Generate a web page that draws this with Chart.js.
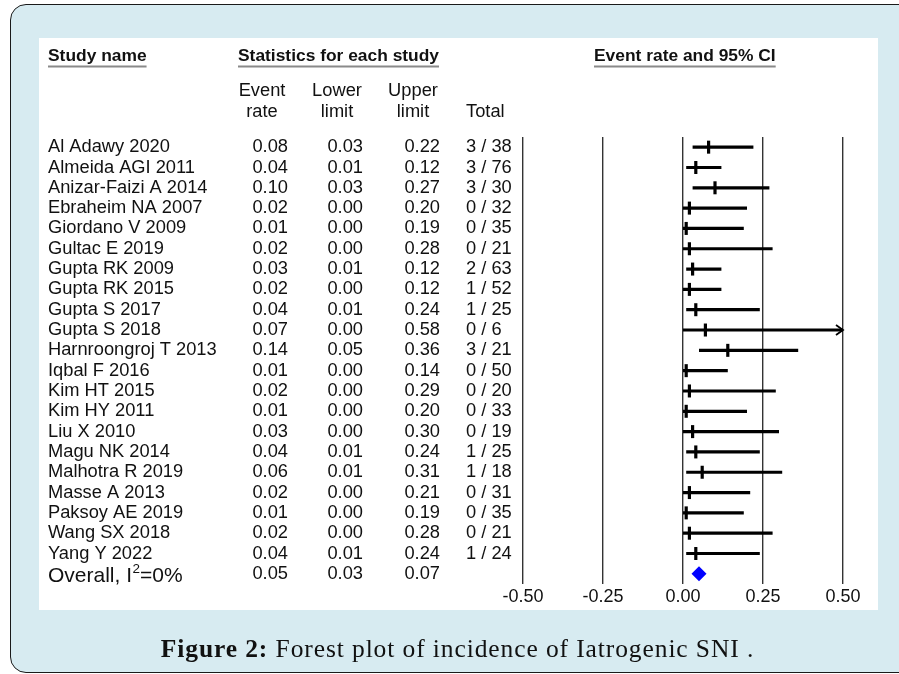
<!DOCTYPE html>
<html>
<head>
<meta charset="utf-8">
<script src="https://cdn.jsdelivr.net/npm/chart.js@4"></script>
<style>
  html, body { margin: 0; padding: 0; background: #ffffff; width: 899px; height: 674px; overflow: hidden; }
  #outer { position: absolute; left: 10px; top: 4px; width: 930px; height: 669px; box-sizing: border-box;
           border: 1.5px solid #1a1a1a; border-radius: 16px; background: #d7ebf1; }
  #panel { position: absolute; left: 39px; top: 38px; width: 839px; height: 572px; background: #ffffff; }
  #c { position: absolute; left: 0; top: 0; }
  #caption { position: absolute; left: 0; width: 915px; top: 634px; text-align: center; letter-spacing: 0.9px;
             font-family: "Liberation Serif", "DejaVu Serif", serif; font-size: 25.5px; color: #111; }
</style>
</head>
<body>
<div id="outer"></div>
<div id="panel"></div>
<canvas id="c" width="899" height="674"></canvas>
<div id="caption"><b>Figure 2:</b> Forest plot of incidence of Iatrogenic SNI .</div>
<script>
const studies = ["Al Adawy 2020","Almeida AGI 2011","Anizar-Faizi A 2014","Ebraheim NA 2007","Giordano V 2009",
  "Gultac E 2019","Gupta RK 2009","Gupta RK 2015","Gupta S 2017","Gupta S 2018","Harnroongroj T 2013",
  "Iqbal F 2016","Kim HT 2015","Kim HY 2011","Liu X 2010","Magu NK 2014","Malhotra R 2019","Masse A 2013",
  "Paksoy AE 2019","Wang SX 2018","Yang Y 2022"];
const eventRate  = [0.08,0.04,0.10,0.02,0.01,0.02,0.03,0.02,0.04,0.07,0.14,0.01,0.02,0.01,0.03,0.04,0.06,0.02,0.01,0.02,0.04];
const lowerLimit = [0.03,0.01,0.03,0.00,0.00,0.00,0.01,0.00,0.01,0.00,0.05,0.00,0.00,0.00,0.00,0.01,0.01,0.00,0.00,0.00,0.01];
const upperLimit = [0.22,0.12,0.27,0.20,0.19,0.28,0.12,0.12,0.24,0.58,0.36,0.14,0.29,0.20,0.30,0.24,0.31,0.21,0.19,0.28,0.24];
const totals = ["3 / 38","3 / 76","3 / 30","0 / 32","0 / 35","0 / 21","2 / 63","1 / 52","1 / 25","0 / 6","3 / 21",
  "0 / 50","0 / 20","0 / 33","0 / 19","1 / 25","1 / 18","0 / 31","0 / 35","0 / 21","1 / 24"];
const overallRate = 0.05, overallLower = 0.03, overallUpper = 0.07;
const xTicks = [-0.50, -0.25, 0.00, 0.25, 0.50];
const xMin = -0.5, xMax = 0.5;

const FONT = '"Liberation Sans", Arial, sans-serif';
const fmt = v => v.toFixed(2);

const ciDatasets = studies.map((s, i) => ({
  type: 'line',
  label: s,
  data: [{x: lowerLimit[i], y: i}, {x: Math.min(upperLimit[i], xMax), y: i}],
  borderColor: '#000', borderWidth: 3.2, pointRadius: 0, showLine: true, fill: false,
  borderCapStyle: 'butt', clip: false
}));

const textPlugin = {
  id: 'forestText',
  afterDatasetsDraw(chart) {
    const ctx = chart.ctx;
    const xs = chart.scales.x, ys = chart.scales.y;
    ctx.save();
    // arrows for clipped CIs
    upperLimit.forEach((u, i) => {
      if (u > xMax) {
        const px = xs.getPixelForValue(xMax), py = ys.getPixelForValue(i);
        ctx.strokeStyle = '#000'; ctx.lineWidth = 1.8;
        ctx.beginPath(); ctx.moveTo(px - 7, py - 5); ctx.lineTo(px, py); ctx.lineTo(px - 7, py + 5); ctx.stroke();
      }
    });
    // headers
    ctx.fillStyle = '#111';
    ctx.textBaseline = 'middle';
    ctx.font = 'bold 17.4px ' + FONT;
    const headers = [["Study name", 48, 'left'], ["Statistics for each study", 238, 'left'], ["Event rate and 95% CI", 594, 'left']];
    headers.forEach(([t, x, a]) => {
      ctx.textAlign = a;
      ctx.fillText(t, x, 56);
      const w = ctx.measureText(t).width;
      ctx.strokeStyle = '#8a8a8a'; ctx.lineWidth = 2;
      ctx.beginPath(); ctx.moveTo(x, 66.5); ctx.lineTo(x + w, 66.5); ctx.stroke();
    });
    ctx.font = '18.3px ' + FONT;
    ctx.textAlign = 'center';
    [["Event","rate",262],["Lower","limit",337],["Upper","limit",413]].forEach(([a,b,x]) => {
      ctx.fillText(a, x, 91); ctx.fillText(b, x, 112);
    });
    ctx.textAlign = 'left';
    ctx.fillText("Total", 466, 112);
    // rows
    studies.forEach((s, i) => {
      const y = ys.getPixelForValue(i);
      ctx.textAlign = 'left';
      ctx.fillText(s, 48, y);
      ctx.fillText(totals[i], 466, y);
      ctx.textAlign = 'right';
      ctx.fillText(fmt(eventRate[i]), 288, y);
      ctx.fillText(fmt(lowerLimit[i]), 363, y);
      ctx.fillText(fmt(upperLimit[i]), 440, y);
    });
    const yo = ys.getPixelForValue(studies.length);
    ctx.textAlign = 'right';
    ctx.fillText(fmt(overallRate), 288, yo);
    ctx.fillText(fmt(overallLower), 363, yo);
    ctx.fillText(fmt(overallUpper), 440, yo);
    ctx.textAlign = 'left';
    ctx.font = '21px ' + FONT;
    let x = 48;
    const y2 = yo + 2;
    ctx.fillText("Overall, I", x, y2); x += ctx.measureText("Overall, I").width;
    ctx.font = '13.5px ' + FONT;
    ctx.fillText("2", x + 0.5, y2 - 7); x += ctx.measureText("2").width + 0.5;
    ctx.font = '21px ' + FONT;
    ctx.fillText("=0%", x, y2);
    ctx.restore();
  }
};

new Chart(document.getElementById('c'), {
  type: 'scatter',
  data: {
    datasets: [
      ...ciDatasets,
      {
        type: 'scatter', label: 'Event rate',
        data: eventRate.map((v, i) => ({x: v, y: i})),
        pointStyle: 'line', rotation: 90, pointRadius: 6.5, pointBorderWidth: 3.2,
        borderColor: '#000', backgroundColor: '#000', clip: false
      },
      {
        type: 'scatter', label: 'Overall',
        data: [{x: overallRate, y: studies.length}],
        pointStyle: 'rectRot', pointRadius: 7.5, pointBorderWidth: 0,
        backgroundColor: '#0000ff', borderColor: '#0000ff', clip: false
      }
    ]
  },
  options: {
    responsive: false, animation: false, devicePixelRatio: 1,
    layout: { padding: { left: 523, right: 56, top: 137, bottom: 60 } },
    plugins: { legend: { display: false }, tooltip: { enabled: false } },
    scales: {
      x: {
        type: 'linear', min: xMin, max: xMax,
        afterBuildTicks: s => { s.ticks = xTicks.map(v => ({ value: v })); },
        afterFit: s => { s.height = 30; },
        grid: { color: '#333', lineWidth: 1.4, drawTicks: false },
        border: { display: false },
        ticks: { padding: 2, color: '#111', font: { family: FONT, size: 18 }, callback: v => fmt(v), maxRotation: 0, autoSkip: false }
      },
      y: { type: 'linear', min: -0.5, max: studies.length + 0.5, reverse: true, display: false }
    }
  },
  plugins: [textPlugin]
});
</script>
</body>
</html>
